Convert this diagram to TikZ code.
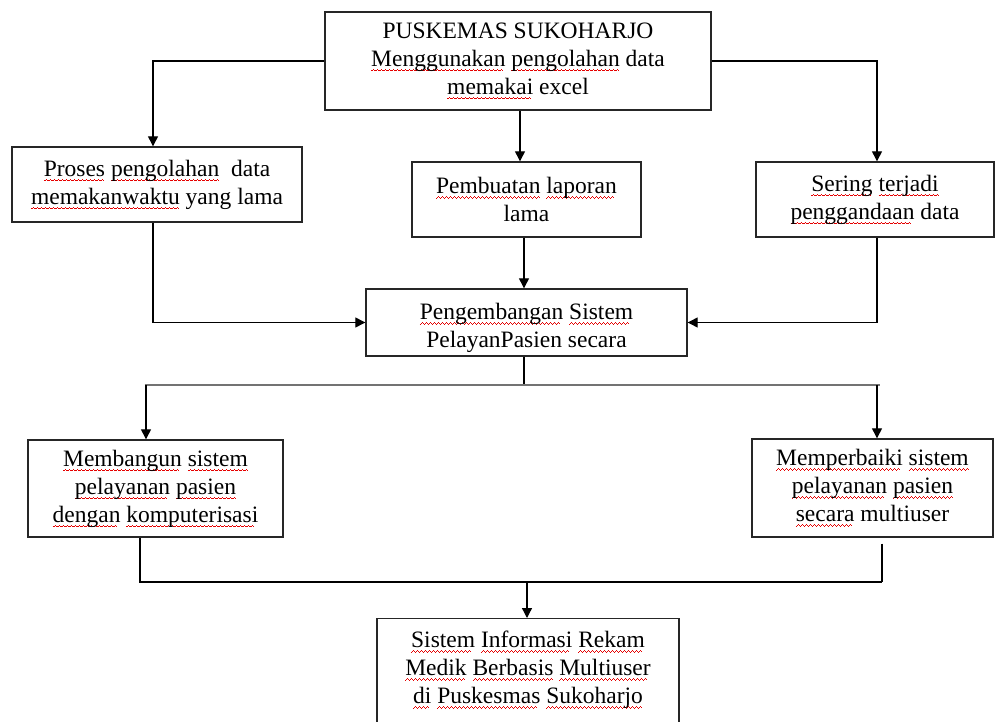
\documentclass[tikz,border=0pt]{standalone}
\usepackage{fontspec}
\setmainfont{Liberation Serif}
\usetikzlibrary{arrows.meta}
\newcommand\wavepiece{\rule[0pt]{1pt}{0.8pt}\rule[0.8pt]{1pt}{0.8pt}\rule[1.6pt]{1pt}{0.8pt}\rule[0.8pt]{1pt}{0.8pt}}
\newcommand\rw[1]{\setbox0\hbox{#1}\rlap{\lower5pt\hbox to\wd0{\color{red!90!black}\leaders\hbox{\wavepiece}\hfill}}#1}
\tikzset{
  boxnode/.style={draw=black!85, line width=1.4pt, align=center, inner sep=0pt,
    font=\fontsize{23.5}{28}\selectfont},
  txtnode/.style={align=center, inner sep=0pt, font=\fontsize{23.5}{28}\selectfont},
  conn/.style={draw=black, line width=1.3pt, -{Triangle[length=10pt,width=10pt]}},
  plainline/.style={draw=black, line width=1.3pt},
  grayline/.style={draw=black!55, line width=2.6pt}
}
\begin{document}
\begin{tikzpicture}[x=1pt,y=1pt]
\clip (0,0) rectangle (996,-722);
\fill[white] (0,0) rectangle (996,-722);

\node[boxnode, minimum width=386, minimum height=98] (top) at (518,-61)
  {PUSKEMAS SUKOHARJO\\ \rw{Menggunakan} \rw{pengolahan} data\\ \rw{memakai} excel};
\node[boxnode, minimum width=290, minimum height=75] (pro) at (157,-184.5)
  {\rw{Proses} \rw{pengolahan} \ data\\ \rw{memakanwaktu} yang lama};
\node[boxnode, minimum width=229, minimum height=75] (lap) at (526.5,-199.5)
  {\rw{Pembuatan} \rw{laporan}\\ lama};
\node[boxnode, minimum width=238, minimum height=75] (ser) at (875,-199.5)
  {\rw{Sering} \rw{terjadi}\\ \rw{penggandaan} data};
\node[boxnode, minimum width=321, minimum height=67] (pen) at (526.5,-322.5) {};
\node[txtnode] (pent) at (526.5,-328)
  {\rw{Pengembangan} \rw{Sistem}\\ PelayanPasien secara};
\node[boxnode, minimum width=255, minimum height=97] (mem) at (155.5,-488.5)
  {\rw{Membangun} \rw{sistem}\\ \rw{pelayanan} \rw{pasien}\\ \rw{dengan} \rw{komputerisasi}};
\node[boxnode, minimum width=241, minimum height=98] (per) at (872.5,-488)
  {\rw{Memperbaiki} \rw{sistem}\\ \rw{pelayanan} \rw{pasien}\\ \rw{secara} multiuser};
\node[boxnode, minimum width=302, minimum height=140, anchor=north] (sim) at (528,-618) {};
\node[txtnode] (simt) at (528,-670)
  {\rw{Sistem} \rw{Informasi} \rw{Rekam}\\ \rw{Medik} \rw{Berbasis} \rw{Multiuser}\\ \rw{di} \rw{Puskesmas} \rw{Sukoharjo}};

% top level connectors
\draw[conn] (top.west) -| ([xshift=-4pt]pro.north);
\draw[conn] (top.east) -| ([xshift=2pt]ser.north);
\draw[conn] ([xshift=2pt]top.south) -- ([xshift=2pt]top.south |- lap.north);

% into development box
\draw[conn] ([xshift=-4pt]pro.south) |- (pen.west);
\draw[conn] ([xshift=2pt]ser.south) |- (pen.east);
\draw[conn] ([xshift=-2.5pt]lap.south) -- ([xshift=-2.5pt]lap.south |- pen.north);

% split
\coordinate (jn) at (524,-385);
\coordinate (jl) at (146,-385);
\coordinate (jr) at (877,-385);
\draw[plainline] (pen.south -| jn) -- (jn);
\draw[grayline] ([xshift=-1.5pt]jl) -- ([xshift=3pt]jr);
\draw[conn] (jl) -- (jl |- mem.north);
\draw[conn] (jr) -- (jr |- per.north);

% merge
\coordinate (bl) at (140,-582);
\coordinate (br) at (882,-582);
\coordinate (bm) at (527,-582);
\draw[plainline] (mem.south -| bl) -- (bl) -- (br);
\draw[plainline] ([yshift=-6pt]per.south -| br) -- (br);
\draw[conn] (bm) -- (bm |- sim.north);
\end{tikzpicture}
\end{document}
